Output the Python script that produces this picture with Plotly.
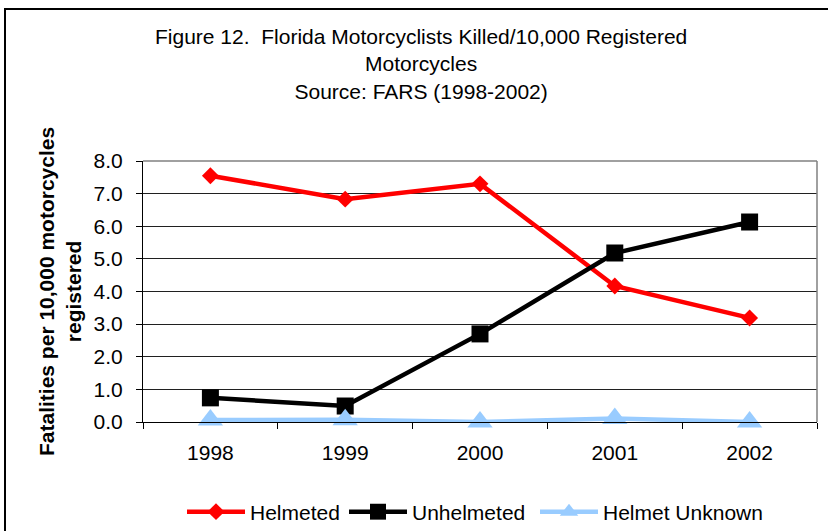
import plotly.graph_objects as go

years = ["1998", "1999", "2000", "2001", "2002"]
helmeted = [7.55, 6.83, 7.30, 4.17, 3.19]
unhelmeted = [0.74, 0.49, 2.70, 5.18, 6.13]
unknown = [0.06, 0.07, 0.00, 0.11, 0.00]

FONT = "Liberation Sans, Arial, sans-serif"

fig = go.Figure()
fig.add_trace(go.Scatter(x=years, y=helmeted, name="Helmeted", mode="lines+markers",
                         line=dict(color="#FF0000", width=4.5), legendwidth=89,
                         marker=dict(symbol="diamond", size=13, color="#FF0000")))
fig.add_trace(go.Scatter(x=years, y=unhelmeted, name="Unhelmeted", mode="lines+markers",
                         line=dict(color="#000000", width=4.5), legendwidth=118,
                         marker=dict(symbol="square", size=17, color="#000000")))
fig.add_trace(go.Scatter(x=years, y=unknown, name="Helmet Unknown", mode="lines+markers",
                         line=dict(color="#99CCFF", width=4.5), cliponaxis=False,
                         marker=dict(symbol="triangle-up", size=22, color="#99CCFF")))

L, R, T, B = 143, 11, 161, 109
W, H = 828, 531
pw, ph = W - L - R, H - T - B

def px(x):
    return (x - L) / pw

def py(y):
    return (H - B - y) / ph

fig.update_layout(
    width=W, height=H,
    margin=dict(l=L, r=R, t=T, b=B, autoexpand=False),
    paper_bgcolor="white", plot_bgcolor="white",
    font=dict(family=FONT, size=21, color="black"),
    showlegend=True,
    legend=dict(orientation="h", x=px(182), xanchor="left", y=py(512), yanchor="middle",
                font=dict(size=21), itemwidth=58, tracegroupgap=0),
    xaxis=dict(type="category", range=[-0.5, 4.5], showline=True, linecolor="black", linewidth=1,
               ticks="outside", ticklen=6, tickcolor="black", tickson="boundaries",
               showgrid=False, zeroline=False, tickfont=dict(size=21), ticklabelstandoff=12),
    yaxis=dict(range=[0, 8], dtick=1, tickformat=".1f", showline=True, linecolor="black",
               linewidth=1, ticks="outside", ticklen=6, tickcolor="black",
               showgrid=True, gridcolor="#202020", gridwidth=1, zeroline=False,
               tickfont=dict(size=21), ticklabelstandoff=9),
    shapes=[
        dict(type="line", xref="paper", yref="paper", x0=0, x1=1, y0=1, y1=1,
             line=dict(color="#808080", width=1.5), layer="above"),
        dict(type="line", xref="paper", yref="paper", x0=1, x1=1, y0=0, y1=1,
             line=dict(color="#808080", width=1.5), layer="above"),
        dict(type="rect", xref="paper", yref="paper", x0=px(5), x1=px(832), y0=py(540), y1=py(9),
             line=dict(color="black", width=2)),
    ],
    annotations=[
        dict(text="Figure 12.  Florida Motorcyclists Killed/10,000 Registered<br>Motorcycles<br>Source: FARS (1998-2002)",
             xref="paper", yref="paper", x=px(421), y=py(64), xanchor="center", yanchor="middle",
             showarrow=False, font=dict(size=21), align="center"),
        dict(text="<b>Fatalities per 10,000 motorcycles<br>registered</b>",
             xref="paper", yref="paper", x=px(60), y=py(292), xanchor="center", yanchor="middle",
             textangle=-90, showarrow=False, font=dict(size=21), align="center"),
    ],
)

fig.write_html("out.html", config={"displayModeBar": False},
               post_script="document.body.style.margin='0';")
